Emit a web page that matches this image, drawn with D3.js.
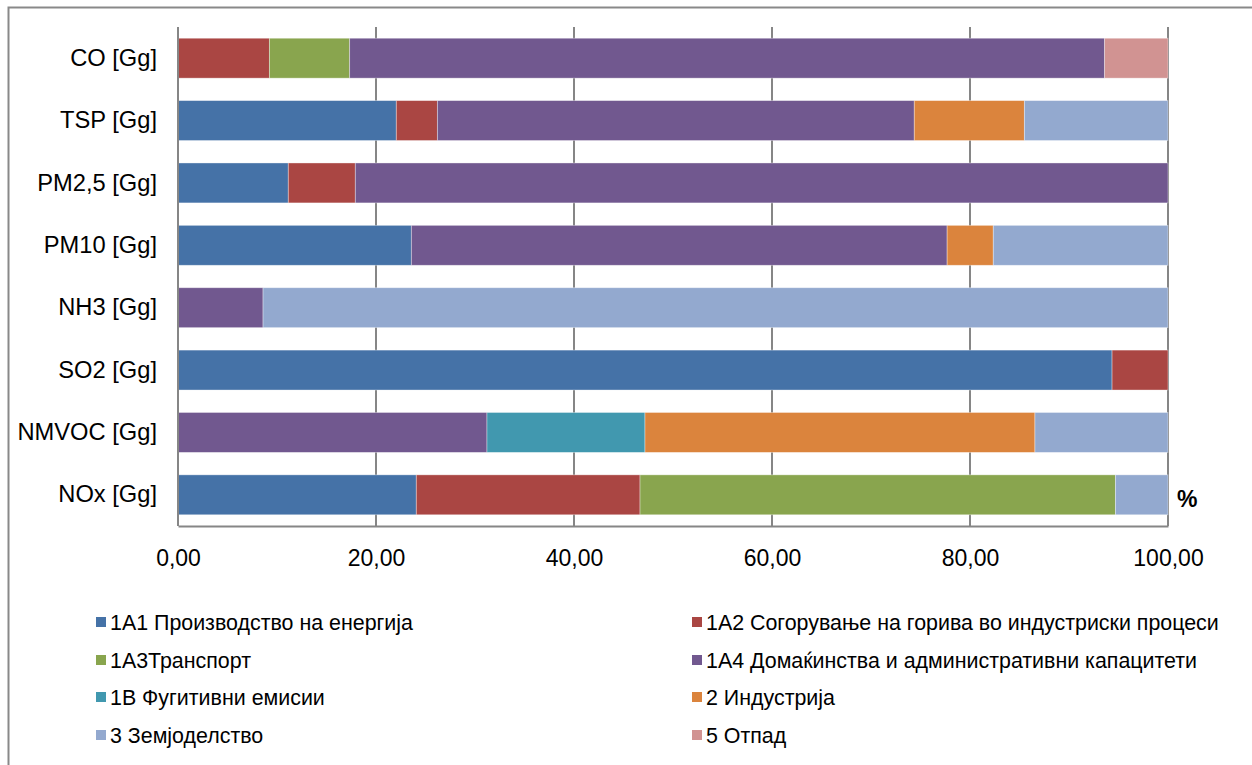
<!DOCTYPE html>
<html><head><meta charset="utf-8">
<script src="https://cdn.jsdelivr.net/npm/d3@7"></script>
<style>body{margin:0;background:#fff}svg{display:block}text{font-family:"Liberation Sans",Arial,sans-serif;fill:#000}</style>
</head><body><svg id="c" width="1252" height="765"></svg>
<script>
const categories = ["CO [Gg]","TSP [Gg]","PM2,5 [Gg]","PM10 [Gg]","NH3 [Gg]","SO2 [Gg]","NMVOC [Gg]","NOx [Gg]"];
const seriesNames = ["1A1 Производство на енергија","1A2 Согорување на горива во индустриски процеси","1A3Транспорт","1A4 Домаќинства и административни капацитети","1B Фугитивни емисии","2 Индустрија","3 Земјоделство","5 Отпад"];
const colors = ["#4572A7","#AA4643","#89A54E","#71588F","#4198AF","#DB843D","#93A9CF","#D19392"];
// values per series, aligned with categories
const s1A1 = [0,22.05,11.14,23.57,0,94.35,0,24.07];
const s1A2 = [9.23,4.15,6.77,0,0,5.65,0,22.60];
const s1A3 = [8.11,0,0,0,0,0,0,48.02];
const s1A4 = [76.26,48.17,82.09,54.12,8.59,0,31.21,0];
const s1B  = [0,0,0,0,0,0,15.96,0];
const s2   = [0,11.12,0,4.66,0,0,39.39,0];
const s3   = [0,14.51,0,17.65,91.41,0,13.44,5.31];
const s5   = [6.40,0,0,0,0,0,0,0];
const tickValues = [0,20,40,60,80,100];

const seriesVals = [s1A1,s1A2,s1A3,s1A4,s1B,s2,s3,s5];
const rows = categories.map((c,i)=>{const o={cat:c}; seriesNames.forEach((s,j)=>o[s]=seriesVals[j][i]); return o;});
const stacked = d3.stack().keys(seriesNames)(rows);

const svg = d3.select("#c");
svg.append("rect").attr("x",8.5).attr("y",7.5).attr("width",1260).attr("height",800)
  .attr("fill","#fff").attr("stroke","#898989").attr("stroke-width",2);

const L=178,R=1168,T=27,B=526;
const x = d3.scaleLinear().domain([0,100]).range([L,R]);
const y = d3.scaleBand().domain(categories).range([T,B]).paddingInner(0.36).paddingOuter(0.18);

// gridlines
svg.append("g").selectAll("line").data(tickValues.slice(1)).join("line")
  .attr("x1",d=>x(d)).attr("x2",d=>x(d)).attr("y1",T).attr("y2",B)
  .attr("stroke","#868686").attr("stroke-width",2);

svg.append("g").selectAll("g").data(stacked).join("g").attr("fill",(d,i)=>colors[i])
  .selectAll("rect").data(d=>d.filter(p=>p[1]-p[0]>0)).join("rect")
  .attr("x",d=>x(d[0])).attr("width",d=>x(d[1])-x(d[0]))
  .attr("y",d=>y(d.data.cat)).attr("height",y.bandwidth())
  .attr("stroke","rgba(255,255,255,0.45)").attr("stroke-width",0.8);

// axes
const xa = svg.append("g").attr("transform",`translate(0,${B})`)
  .call(d3.axisBottom(x).tickValues(tickValues).tickSize(0).tickPadding(24).tickFormat(d=>d3.format(".2f")(d).replace(".",",")));
xa.select(".domain").attr("stroke","#868686").attr("stroke-width",2);
xa.selectAll("text").attr("font-size",23).style("font-family","Liberation Sans, Arial, sans-serif").attr("fill","#000");

const ya = svg.append("g").attr("transform",`translate(${L},0)`)
  .call(d3.axisLeft(y).tickSize(0).tickPadding(21));
ya.select(".domain").attr("stroke","#868686").attr("stroke-width",2).attr("d",`M0,${T}V${B}`);
ya.selectAll("text").attr("font-size",23.7).style("font-family","Liberation Sans, Arial, sans-serif").attr("fill","#000");

svg.append("text").attr("x",1177).attr("y",507).attr("font-size",23).attr("font-weight","bold").text("%");

// legend
const legX=[96,692], legY=[622,660,697,735];
const lg = svg.append("g").selectAll("g").data(seriesNames).join("g")
  .attr("transform",(d,i)=>`translate(${legX[i%2]},${legY[Math.floor(i/2)]})`);
lg.append("rect").attr("x",0).attr("y",-5).attr("width",10).attr("height",10).attr("fill",(d,i)=>colors[i]);
lg.append("text").attr("x",14).attr("y",7.5).attr("font-size",21.4).text(d=>d);
</script></body></html>
